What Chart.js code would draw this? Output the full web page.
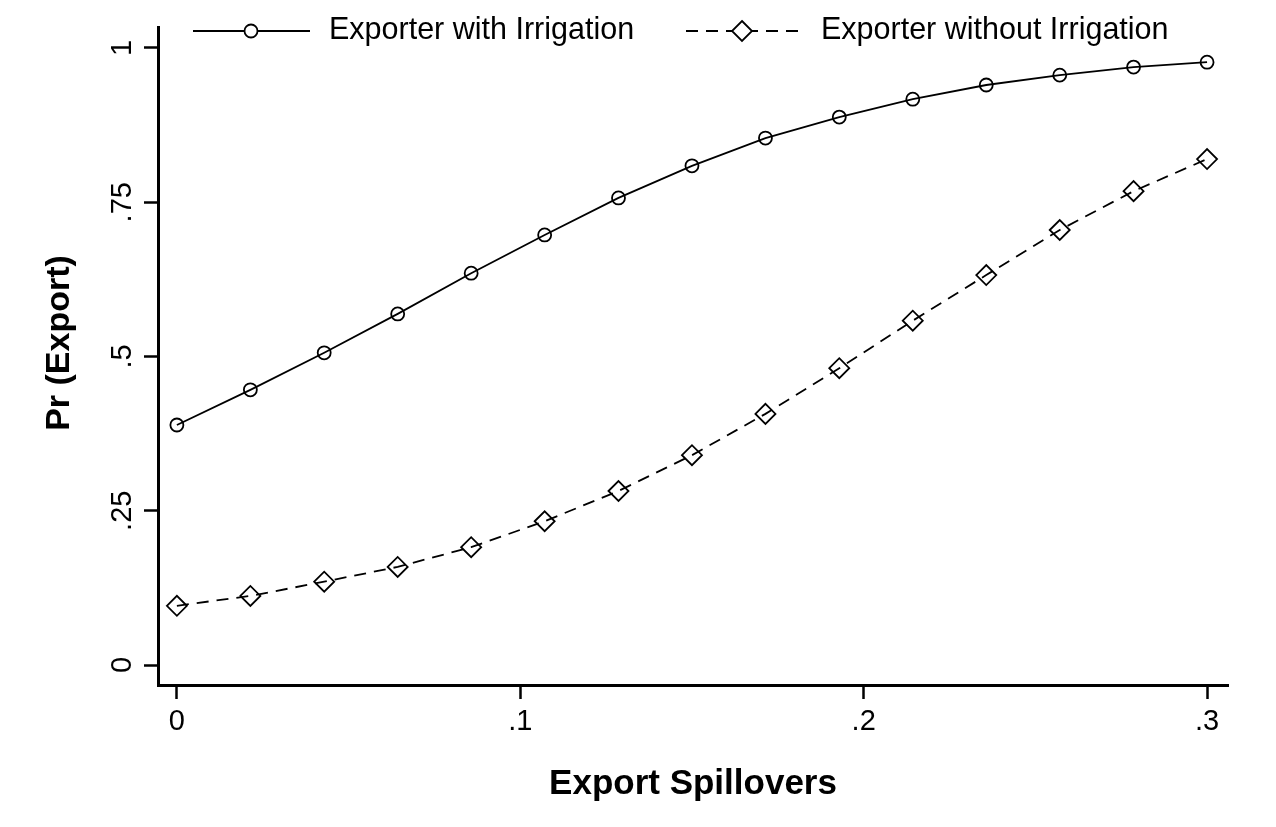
<!DOCTYPE html>
<html>
<head>
<meta charset="utf-8">
<script src="https://cdn.jsdelivr.net/npm/chart.js@4.4.1/dist/chart.umd.min.js"></script>
<style>
  html, body { margin: 0; padding: 0; background: #fff; }
  canvas { display: block; }
</style>
</head>
<body>
<canvas id="chart" width="1276" height="827"></canvas>
<script>
// data
const spillovers = [0, 0.0214, 0.0429, 0.0643, 0.0857, 0.1071, 0.1286, 0.15, 0.1714, 0.1929, 0.2143, 0.2357, 0.2571, 0.2786, 0.3];
const withIrrigation = [0.389, 0.446, 0.506, 0.569, 0.635, 0.697, 0.757, 0.809, 0.854, 0.888, 0.917, 0.940, 0.956, 0.969, 0.977];
const withoutIrrigation = [0.096, 0.112, 0.135, 0.159, 0.191, 0.233, 0.282, 0.340, 0.407, 0.481, 0.558, 0.632, 0.705, 0.768, 0.820];
const xTicks = [0, 0.1, 0.2, 0.3];
const yTicks = [0, 0.25, 0.5, 0.75, 1];
const seriesNames = ['Exporter with Irrigation', 'Exporter without Irrigation'];

const FONT = '"Liberation Sans", Arial, sans-serif';

const fmt = (v) => {
    if (v === 0) return '0';
    if (v === 1) return '1';
    return String(v).replace(/^0/, '');
};

const toPoints = (ys) => ys.map((y, i) => ({ x: spillovers[i], y }));

const textPlugin = {
    id: 'stataText',
    afterDraw (chart) {
        const { ctx, chartArea, scales } = chart;
        ctx.save();
        ctx.fillStyle = '#000';

        // y tick labels, rotated like Stata
        ctx.font = '29px ' + FONT;
        ctx.textAlign = 'center';
        ctx.textBaseline = 'middle';
        yTicks.forEach((v) => {
            const y = scales.y.getPixelForValue(v);
            ctx.save();
            ctx.translate(123, y);
            ctx.rotate(-Math.PI / 2);
            ctx.fillText(fmt(v), 0, 0);
            ctx.restore();
        });

        // axis titles
        ctx.font = 'bold 35px ' + FONT;
        ctx.fillText('Export Spillovers', (chartArea.left + chartArea.right) / 2, 784);
        ctx.font = 'bold 34px ' + FONT;
        ctx.save();
        ctx.translate(60, 343);
        ctx.rotate(-Math.PI / 2);
        ctx.fillText('Pr (Export)', 0, 0);
        ctx.restore();

        // legend
        const ly = 31;
        ctx.strokeStyle = '#000';
        ctx.lineWidth = 1.8;
        ctx.beginPath();
        ctx.moveTo(193, ly); ctx.lineTo(310, ly);
        ctx.stroke();
        ctx.fillStyle = '#fff';
        ctx.beginPath();
        ctx.arc(251, ly, 6.5, 0, Math.PI * 2);
        ctx.fill();
        ctx.stroke();

        ctx.setLineDash([12, 8]);
        ctx.beginPath();
        ctx.moveTo(686, ly); ctx.lineTo(800, ly);
        ctx.stroke();
        ctx.setLineDash([]);
        ctx.beginPath();
        ctx.moveTo(742, ly - 10); ctx.lineTo(752, ly); ctx.lineTo(742, ly + 10); ctx.lineTo(732, ly);
        ctx.closePath();
        ctx.fill();
        ctx.stroke();

        ctx.fillStyle = '#000';
        ctx.font = '30.5px ' + FONT;
        ctx.textAlign = 'left';
        ctx.fillText(seriesNames[0], 329, ly);
        ctx.fillText(seriesNames[1], 821, ly);
        ctx.restore();
    }
};

new Chart(document.getElementById('chart'), {
    type: 'line',
    data: {
        datasets: [
            {
                label: seriesNames[0],
                data: toPoints(withIrrigation),
                borderColor: '#000',
                borderWidth: 1.8,
                backgroundColor: '#fff',
                pointStyle: 'circle',
                pointRadius: 6.5,
                pointBorderWidth: 1.8,
                pointBackgroundColor: 'rgba(255,255,255,0)',
                tension: 0
            },
            {
                label: seriesNames[1],
                data: toPoints(withoutIrrigation),
                borderColor: '#000',
                borderWidth: 1.8,
                borderDash: [12, 8],
                backgroundColor: '#fff',
                pointStyle: 'rectRot',
                pointRadius: 10,
                pointBorderWidth: 1.8,
                pointBackgroundColor: 'rgba(255,255,255,0)',
                tension: 0
            }
        ]
    },
    options: {
        responsive: false,
        animation: false,
        events: [],
        layout: { padding: { top: 27, right: 48, left: 0, bottom: 0 } },
        plugins: { legend: { display: false }, tooltip: { enabled: false } },
        scales: {
            x: {
                type: 'linear',
                min: -0.0055,
                max: 0.3061,
                afterBuildTicks: (axis) => { axis.ticks = xTicks.map((v) => ({ value: v })); },
                afterFit: (axis) => { axis.height = 142; },
                border: { display: true, color: '#000', width: 3 },
                grid: { drawOnChartArea: false, drawTicks: true, tickLength: 14, tickWidth: 2.5, tickColor: '#000' },
                ticks: {
                    color: '#000',
                    font: { family: FONT, size: 29 },
                    padding: 6,
                    maxRotation: 0,
                    callback: (v) => fmt(v)
                }
            },
            y: {
                type: 'linear',
                min: -0.0324,
                max: 1.034,
                afterBuildTicks: (axis) => { axis.ticks = yTicks.map((v) => ({ value: v })); },
                afterFit: (axis) => { axis.width = 158; },
                border: { display: true, color: '#000', width: 3 },
                grid: { drawOnChartArea: false, drawTicks: true, tickLength: 14, tickWidth: 2.5, tickColor: '#000' },
                ticks: { display: false }
            }
        }
    },
    plugins: [textPlugin]
});
</script>
</body>
</html>
